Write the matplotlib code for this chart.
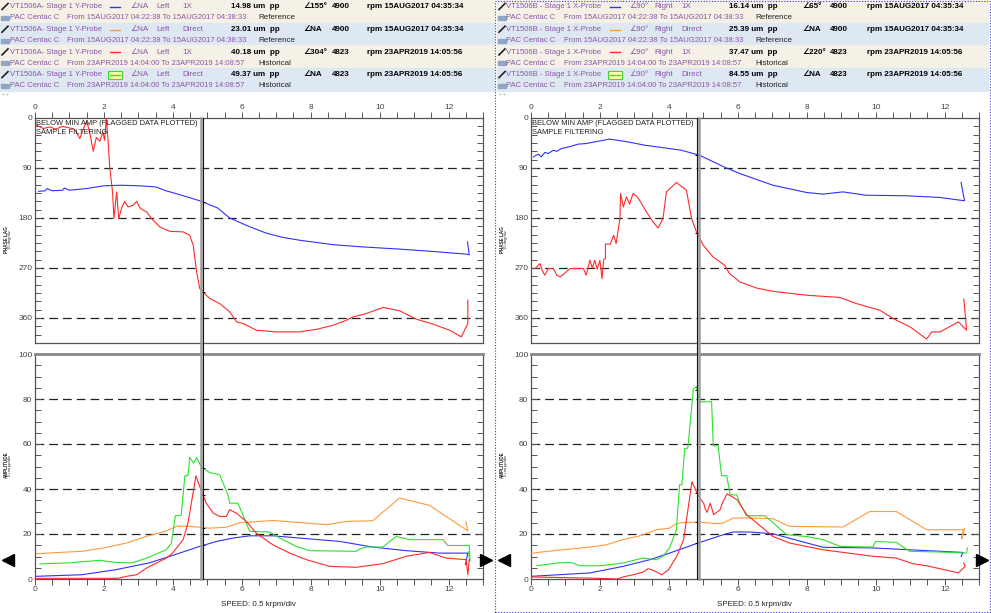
import numpy as np
import matplotlib
matplotlib.use("Agg")
import matplotlib.pyplot as plt
from matplotlib.patches import Rectangle
from matplotlib.lines import Line2D

plt.rcParams["font.family"] = ["Liberation Sans", "DejaVu Sans"]

W, H = 991, 613

# ---- header data ----
probes_left = ["VT1506A- Stage 1 Y-Probe"] * 4
probes_right = ["VT1506B - Stage 1 X-Probe"] * 4
angle_left = ["NA", "NA", "NA", "NA"]
angle_right = ["90°", "90°", "90°", "90°"]
side_left = "Left"
side_right = "Right"
meas = ["1X", "Direct", "1X", "Direct"]
amp_left = ["14.98 um  pp", "23.01 um  pp", "40.18 um  pp", "49.37 um  pp"]
amp_right = ["16.14 um  pp", "25.39 um  pp", "37.47 um  pp", "84.55 um  pp"]
phase_left = ["155°", "NA", "304°", "NA"]
phase_right = ["65°", "NA", "220°", "NA"]
rpm = ["4900", "4900", "4823", "4823"]
stamp = ["rpm 15AUG2017 04:35:34", "rpm 15AUG2017 04:35:34",
         "rpm 23APR2019 14:05:56", "rpm 23APR2019 14:05:56"]
ranges = ["From 15AUG2017 04:22:38 To 15AUG2017 04:38:33",
          "From 15AUG2017 04:22:38 To 15AUG2017 04:38:33",
          "From 23APR2019 14:04:00 To 23APR2019 14:08:57",
          "From 23APR2019 14:04:00 To 23APR2019 14:08:57"]
kind = ["Reference", "Reference", "Historical", "Historical"]
colors = ["#3030ff", "#ff9a3c", "#ff2a2a", "#2ee02e"]

# ---- left panel (VT1506A) ----
lph_blue_x = [0.1, 0.3, 0.35, 0.5, 0.8, 0.85, 1.0, 1.5, 2.0, 2.5, 3.0, 3.5, 3.8, 4.2, 4.78, 5.3,
              5.65, 6.2, 6.7, 7.2, 7.68, 8.65, 9.5, 10.58, 11.5, 12.5, 12.6, 12.55]
lph_blue_y = [132, 131, 127, 131, 130, 126, 130, 127, 122, 121, 122, 124, 131, 138, 149, 162,
              180, 195, 207, 215, 220, 228, 232, 236, 240, 245, 246, 223]
lph_red_x = [0.05, 0.24, 0.43, 0.6, 0.8, 1.0, 1.11, 1.2, 1.3, 1.4, 1.5, 1.6, 1.69, 1.78, 1.88,
             1.97, 2.02, 2.07, 2.12, 2.17, 2.25, 2.29, 2.37, 2.43, 2.51, 2.6, 2.7, 2.85, 2.95,
             3.05, 3.14, 3.24, 3.38, 3.62, 3.91, 4.3, 4.49, 4.59, 4.69, 4.78, 5.07, 5.36, 5.65,
             5.85, 6.04, 6.43, 7.0, 7.68, 8.2, 8.65, 9.0, 9.23, 9.61, 10.1, 10.58, 11.06, 11.55,
             12.03, 12.37, 12.56, 12.56]
lph_red_y = [13, 19, 16, 20, 15, 18, 19, 25, 37, 20, 5, 30, 60, 35, 42,
             25, 40, 0, 40, 90, 133, 181, 133, 181, 163, 150, 160, 157, 150,
             162, 166, 169, 181, 196, 204, 205, 211, 229, 277, 307, 325, 334, 349,
             367, 370, 382, 385, 385, 380, 373, 365, 358, 352, 341, 347, 362, 371,
             382, 394, 370, 328]

lam_orange_x = [0.05, 0.7, 1.36, 1.98, 2.66, 3.24, 3.81, 4.1, 4.4, 4.78, 5.07, 5.55, 5.94,
                6.9, 7.87, 8.45, 9.03, 9.8, 10.58, 11.45, 12.56, 12.5]
lam_orange_y = [11.2, 11.8, 12.3, 13.8, 16, 19, 21.3, 23.4, 23.5, 23, 22.6, 23, 25,
                26, 24.9, 24.1, 25.6, 25.9, 36, 32.7, 21.4, 25.6]
lam_blue_x = [0.05, 1.36, 2.33, 3.3, 3.98, 4.78, 5.27, 5.75, 6.23, 6.9, 8.84, 9.8, 10.77,
              11.74, 12.56, 12.49]
lam_blue_y = [1.2, 1.9, 4.1, 7.1, 10.4, 14.5, 16.7, 18.2, 19.2, 19.2, 16.7, 14.2, 12.6,
              11.5, 11.5, 6.4]
lam_red_x = [0.05, 2.4, 2.66, 2.95, 3.24, 3.81, 3.99, 4.3, 4.44, 4.67, 4.78, 4.97, 5.17,
             5.36, 5.55, 5.65, 5.84, 6.13, 6.42, 6.9, 7.39, 7.87, 8.55, 9.32, 10.09, 10.77,
             11.45, 11.93, 12.51, 12.56, 12.6]
lam_red_y = [0.3, 0.3, 1.2, 1.9, 4.9, 9.3, 11.5, 17.5, 24.9, 45.9, 41.1, 33.7, 29.3,
             27.8, 27.8, 30.8, 29.3, 25.6, 20.4, 15.2, 11.5, 8.6, 5.6, 5.2, 6.8, 10.1,
             11.8, 9.3, 8.6, 1.9, 8.6]
lam_green_x = [0.14, 1.0, 1.88, 2.33, 2.8, 3.24, 3.81, 3.96, 4.07, 4.24, 4.35, 4.44, 4.49,
               4.6, 4.69, 4.83, 5.07, 5.36, 5.6, 5.65, 5.89, 6.23, 6.8, 7.1, 7.58, 7.97,
               9.32, 9.45, 9.61, 10.09, 10.48, 10.87, 11.84, 11.98, 12.6, 12.62, 12.58]
lam_green_y = [6.7, 7.2, 8.3, 7.4, 7.1, 9.3, 13, 16, 28.1, 28.3, 45.9, 45.9, 54.1,
               51.5, 54.0, 49.7, 47.3, 46.3, 37.4, 33.7, 33.7, 21.2, 20.9, 18.2, 14.5, 12.6,
               12.3, 13.5, 14.2, 14.2, 18.9, 17.5, 17.5, 14.9, 14.9, 8, 12]

# ---- right panel (VT1506B) ----
rph_blue_x = [0.07, 0.21, 0.3, 0.4, 0.5, 0.65, 0.75, 0.88, 1.1, 1.37, 1.6, 1.85, 2.28, 2.81,
              3.3, 3.78, 4.36, 4.89, 5.6, 6.06, 7.02, 7.99, 8.47, 9.05, 9.73, 10.89, 11.85,
              12.58, 12.48]
rph_blue_y = [70, 65, 70, 62, 64, 58, 60, 55, 52, 47, 46, 43, 38, 43,
              49, 53, 58, 67, 88, 100, 121, 134, 137, 133, 139, 140, 143,
              149, 116]
rph_red_x = [0.12, 0.26, 0.33, 0.4, 0.5, 0.65, 0.75, 0.85, 1.0, 1.13, 1.52, 1.6, 1.71, 1.78,
             1.85, 1.92, 2.0, 2.06, 2.11, 2.16, 2.16, 2.3, 2.4, 2.47, 2.58, 2.6, 2.68, 2.77,
             2.86, 2.96, 3.05, 3.15, 3.35, 3.54, 3.69, 3.83, 3.93, 4.22, 4.51, 4.66, 4.8, 5.0,
             5.28, 5.62, 5.76, 6.06, 6.54, 7.02, 7.99, 8.96, 9.44, 10.12, 10.51, 11.0, 11.48,
             11.63, 11.87, 12.4, 12.64, 12.56]
rph_red_y = [271, 262, 275, 283, 271, 271, 283, 286, 278, 271, 271, 283, 256, 270,
             256, 272, 256, 289, 255, 253, 227, 227, 211, 226, 181, 136, 160, 142,
             155, 136, 140, 148, 169, 187, 198, 181, 133, 116, 130, 181, 205, 229,
             250, 265, 280, 295, 306, 312, 319, 323, 334, 346, 361, 376, 398,
             385, 385, 367, 382, 326]

ram_orange_x = [0.02, 0.74, 1.71, 2.19, 2.67, 3.16, 3.64, 4.02, 4.2, 4.41, 4.9, 5.39, 5.58,
                5.87, 6.35, 7.02, 7.5, 9.05, 9.83, 10.6, 11.48, 12.54, 12.5, 12.58]
ram_orange_y = [11.5, 12.7, 14.2, 15.2, 17.5, 19.2, 21.9, 22.6, 24.5, 25.1, 25.3, 24.6, 24.9,
                27.1, 27.1, 26.8, 23.4, 23.1, 30, 30, 21.9, 21.9, 17.9, 22.5]
ram_blue_x = [0.02, 1.71, 2.67, 3.45, 4.02, 4.85, 5.58, 5.87, 6.35, 7.02, 8.47, 9.92, 11.37,
              12.54, 12.48]
ram_blue_y = [1.2, 2.7, 5.6, 8.6, 11.5, 16, 19.7, 20.9, 20.9, 20.1, 14.1, 13.8, 12.7,
              11.8, 10.0]
ram_red_x = [0.02, 1.71, 2.5, 2.67, 2.96, 3.25, 3.4, 3.55, 3.8, 3.99, 4.23, 4.43, 4.67, 4.86,
             5.01, 5.06, 5.11, 5.2, 5.3, 5.49, 5.55, 5.69, 5.98, 6.26, 7.02, 7.5, 8.47, 9.92,
             10.6, 11.08, 11.47, 11.66, 12.4, 12.6, 12.56]
ram_red_y = [0.9, 0.4, 0, 0.9, 1.9, 3.1, 4.6, 3.8, 1.9, 4.1, 10.1, 17.5, 43.3, 36.7,
             33.7, 31, 29.6, 33.7, 28.6, 30.8, 33.7, 37.9, 35.2, 28.6, 18.9, 16, 13, 10.1,
             9.3, 6.8, 5.9, 5.3, 2.7, 5.6, 7.1]
ram_green_x = [0.17, 0.74, 1.13, 1.42, 2.0, 2.28, 2.67, 3.06, 3.25, 3.64, 3.83, 4.02, 4.22,
               4.31, 4.38, 4.46, 4.55, 4.71, 4.8, 4.9, 5.24, 5.29, 5.43, 5.53, 5.68, 5.78,
               5.97, 6.06, 6.25, 6.79, 7.02, 7.41, 7.99, 8.47, 8.96, 9.92, 10.0, 10.6, 10.99,
               11.86, 12.64, 12.66]
ram_green_y = [5.9, 7.1, 7.4, 5.9, 5.9, 6.4, 7.1, 8.6, 9.3, 8.6, 10.1, 13.8, 21.9,
               41.9, 41.9, 58.1, 58.1, 84.3, 85.5, 78.8, 78.8, 59.2, 59.2, 45.9, 45.9, 37.4,
               37.4, 33.7, 28.1, 28.1, 25.1, 19.7, 18.9, 17.5, 14.5, 14.2, 16.7, 16.3, 12.3,
               12.0, 11.5, 13.8]

cursor_left = (4.81, 4.88)   # gray, black
cursor_right = (4.88, 4.82)

fig = plt.figure(figsize=(W / 100, H / 100), dpi=100)


def fx(px):
    return px / W


def fy(py):
    return 1 - py / H


PURPLE = "#8a56a6"
FS = 5.8
FS2 = 5.5


def header(x0, x1, probes, angles, side, amps, phases):
    cols = [9.5, 110, 130, 156, 182, 231, 303, 332, 367]
    if side == "Right":
        cols = [9.5, 113, 132, 157, 184, 232, 305, 333, 370]
    for i in range(4):
        top = i * 22.7
        bg = "#f6f1e6" if i % 2 == 0 else "#dee8f3"
        fig.patches.append(Rectangle((fx(x0), fy(top + 22.7)), fx(x1 - x0), 22.7 / H,
                                     transform=fig.transFigure, color=bg, zorder=0))
        y1 = fy(top + 6.8)
        y2 = fy(top + 17.8)
        # little icons
        fig.add_artist(Line2D([fx(x0 + 2), fx(x0 + 8)], [fy(top + 9.5), fy(top + 3.5)],
                              color="#222", lw=1.2, transform=fig.transFigure))
        fig.patches.append(Rectangle((fx(x0 + 1), fy(top + 20)), fx(8), 4 / H,
                                     transform=fig.transFigure, color="#8fa6c4"))
        c = [x0 + v for v in cols]
        fig.text(fx(c[0]), y1, probes[i], color=PURPLE, fontsize=FS2, va="center")
        if i == 3:
            fig.patches.append(Rectangle((fx(c[1] - 2), fy(top + 11)), fx(14), 8.5 / H,
                                         transform=fig.transFigure, facecolor="#ffffb0",
                                         edgecolor="#33dd33", lw=0.8))
        fig.add_artist(Line2D([fx(c[1]), fx(c[1] + 10)], [y1, y1], color=colors[i], lw=1,
                              transform=fig.transFigure))
        fig.text(fx(c[2]), y1, "∠" + angles[i], color=PURPLE, fontsize=FS, va="center")
        fig.text(fx(c[3]), y1, side, color=PURPLE, fontsize=FS, va="center")
        fig.text(fx(c[4]), y1, meas[i], color=PURPLE, fontsize=FS, va="center")
        fig.text(fx(c[5]), y1, amps[i], color="black", fontsize=FS, va="center",
                 weight="bold")
        fig.text(fx(c[6]), y1, "∠" + phases[i], color="black", fontsize=FS, va="center",
                 weight="bold")
        fig.text(fx(c[7]), y1, rpm[i], color="black", fontsize=FS, va="center", weight="bold")
        fig.text(fx(c[8]), y1, stamp[i], color="black", fontsize=FS, va="center",
                 weight="bold")
        fig.text(fx(c[0]), y2, "PAC Centac C", color=PURPLE, fontsize=FS2, va="center")
        fig.text(fx(x0 + 67), y2, ranges[i], color=PURPLE, fontsize=FS2, va="center")
        fig.text(fx(x0 + 258), y2, kind[i], color="#222", fontsize=FS, va="center")
    fig.text(fx(x0 + 2), fy(95), "÷ ÷", color="#777", fontsize=3.5, va="center")


def dash_grid(ax, vals):
    for v in vals:
        ax.axhline(v, color="#222", lw=0.9, ls=(0, (7, 4)), zorder=1)


def style(ax):
    for s in ax.spines.values():
        s.set_color("#555")
        s.set_linewidth(0.9)
    ax.tick_params(axis="y", which="both", direction="in", left=True, right=True,
                   length=4, width=0.7, colors="#555", labelsize=6, pad=2,
                   labelcolor="#444")
    ax.set_xlim(0, 13)
    ax.set_xticks(np.arange(0, 13, 2))
    ax.set_xticks(np.arange(0, 13.01, 0.5), minor=True)


def panel(x0px, phase_series, amp_series, cursor):
    left = fx(x0px)
    width = 448 / W
    axp = fig.add_axes([left, fy(343), width, 225 / H])
    axa = fig.add_axes([left, fy(579), width, 225 / H])

    style(axp)
    axp.set_ylim(405, 0)
    axp.set_yticks([0, 90, 180, 270, 360])
    axp.set_yticks(np.arange(0, 405, 15), minor=True)
    axp.tick_params(axis="x", which="both", direction="out", top=True, bottom=False,
                    labeltop=True, labelbottom=False, length=4, width=0.7,
                    colors="#555", labelsize=6, pad=1, labelcolor="#444")
    dash_grid(axp, [90, 180, 270, 360])
    for (xs, ys), c in phase_series:
        axp.plot(xs, ys, color=c, lw=0.8, zorder=3)
    axp.text(0.002, 0.99, "BELOW MIN AMP (FLAGGED DATA PLOTTED)\nSAMPLE FILTERING",
             transform=axp.transAxes, fontsize=5.4, va="top", ha="left", color="#222",
             linespacing=1.3)

    style(axa)
    axa.set_ylim(0, 100)
    axa.set_yticks(np.arange(0, 101, 20))
    axa.set_yticks(np.arange(0, 101, 5), minor=True)
    axa.tick_params(axis="x", which="both", direction="out", top=False, bottom=True,
                    labeltop=False, labelbottom=True, length=4, width=0.7,
                    colors="#555", labelsize=6, pad=1, labelcolor="#444")
    axa.spines["top"].set_linewidth(2)
    axa.spines["top"].set_color("#888")
    dash_grid(axa, [20, 40, 60, 80])
    for (xs, ys), c in amp_series:
        axa.plot(xs, ys, color=c, lw=0.8, zorder=3)

    # cursor readout marks
    for ax, series in ((axp, phase_series), (axa, amp_series)):
        for (xs, ys), c in series:
            xs_a = np.array(xs)
            m = xs_a < 12
            ax.plot([cursor[1]], [np.interp(cursor[1], xs_a[m], np.array(ys)[m])],
                    marker="+", color="black", ms=3, mew=0.7, zorder=4)

    # cursor lines through both plots
    for xc, col, lw in ((cursor[0], "#9a9a9a", 1.8), (cursor[1], "#111", 0.8)):
        xf = fig.transFigure.inverted().transform(axp.transData.transform((xc, 0)))[0]
        fig.add_artist(Line2D([xf, xf], [fy(579), fy(118)], color=col, lw=lw,
                              transform=fig.transFigure, zorder=5))

    # scroll triangles
    fig.add_artist(Line2D([fx(x0px - 27)], [fy(560)], marker="<", ms=9, color="black",
                          transform=fig.transFigure))
    fig.add_artist(Line2D([fx(x0px + 451)], [fy(560)], marker=">", ms=9, color="black",
                          transform=fig.transFigure))

    # axis captions
    fig.text(fx(x0px - 31), fy(240), "PHASE LAG", rotation=90, fontsize=3.3,
             weight="bold", va="center", ha="left", color="#222")
    fig.text(fx(x0px - 27), fy(240), "15 deg/div", rotation=90, fontsize=3,
             va="center", ha="left", color="#222")
    fig.text(fx(x0px - 31), fy(465), "AMPLITUDE", rotation=90, fontsize=3.3,
             weight="bold", va="center", ha="left", color="#222")
    fig.text(fx(x0px - 27), fy(465), "5 um pp/div", rotation=90, fontsize=3,
             va="center", ha="left", color="#222")
    fig.text(fx(x0px + 223), fy(605), "SPEED: 0.5 krpm/div", fontsize=5.8,
             ha="center", va="center", color="#222")


header(0, 494, probes_left, angle_left, side_left, amp_left, phase_left)
header(497, 988, probes_right, angle_right, side_right, amp_right, phase_right)

panel(35,
      [((lph_blue_x, lph_blue_y), colors[0]), ((lph_red_x, lph_red_y), colors[2])],
      [((lam_orange_x, lam_orange_y), colors[1]), ((lam_blue_x, lam_blue_y), colors[0]),
       ((lam_green_x, lam_green_y), colors[3]), ((lam_red_x, lam_red_y), colors[2])],
      cursor_left)
panel(531,
      [((rph_blue_x, rph_blue_y), colors[0]), ((rph_red_x, rph_red_y), colors[2])],
      [((ram_orange_x, ram_orange_y), colors[1]), ((ram_blue_x, ram_blue_y), colors[0]),
       ((ram_green_x, ram_green_y), colors[3]), ((ram_red_x, ram_red_y), colors[2])],
      cursor_right)

# dotted frame round the right-hand plot
fig.patches.append(Rectangle((fx(495), fy(612)), fx(495), 611 / H, transform=fig.transFigure,
                             fill=False, edgecolor="#3a3ae0", lw=0.8, ls=(0, (1, 1.5))))

fig.savefig("out.png", dpi=100)
